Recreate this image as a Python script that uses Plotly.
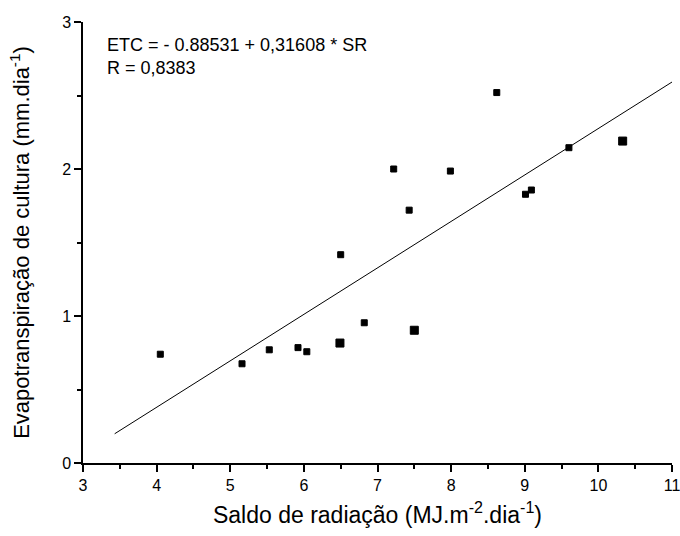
import plotly.graph_objects as go

# Net radiation (MJ m-2 day-1) and crop evapotranspiration (mm day-1)
saldo_radiacao = [4.05, 5.16, 5.53, 5.92, 6.04, 6.49, 6.50, 6.82, 7.22, 7.43,
                  7.50, 7.99, 8.62, 9.01, 9.09, 9.60, 10.33]
etc_cultura = [0.74, 0.675, 0.77, 0.785, 0.757, 0.816, 1.417, 0.954, 2.00, 1.72,
               0.903, 1.986, 2.52, 1.828, 1.857, 2.145, 2.19]

# Fitted linear regression
intercepto = -0.88531
inclinacao = 0.31608
r_coef = "0,8383"
sr_ajuste = [3.43, 11.0]
etc_ajuste = [intercepto + inclinacao * x for x in sr_ajuste]

x_ticks = [3, 4, 5, 6, 7, 8, 9, 10, 11]
y_ticks = [0, 1, 2, 3]

# a few markers drawn a little larger (overlapping observations)
tamanhos = [6 if v not in (6.49, 7.50, 10.33) else 8 for v in saldo_radiacao]

font_family = "Liberation Sans, Arial, sans-serif"

fig = go.Figure()
fig.add_trace(go.Scatter(
    x=sr_ajuste, y=etc_ajuste, mode="lines",
    line=dict(color="black", width=1), showlegend=False, hoverinfo="skip"))
fig.add_trace(go.Scatter(
    x=saldo_radiacao, y=etc_cultura, mode="markers",
    marker=dict(symbol="square", color="black", size=tamanhos, opacity=1,
                line=dict(width=1, color="black")),
    showlegend=False))

fig.add_annotation(
    x=0.038, y=0.975, xref="paper", yref="paper", xanchor="left", yanchor="top",
    align="left", showarrow=False,
    text=f"ETC = - {abs(intercepto):.5f} + {inclinacao:.5f} * SR".replace("+ 0.", "+ 0,")
         + f"<br>R = {r_coef}",
    font=dict(family=font_family, size=18, color="black"))

axis_common = dict(
    showline=True, linecolor="black", linewidth=1.5, mirror=False,
    showgrid=False, zeroline=False,
    ticks="outside", ticklen=7, tickwidth=1.5, tickcolor="black",
    tickfont=dict(family=font_family, size=16, color="black"),
    ticklabeloverflow="allow",
    minor=dict(ticks="outside", ticklen=4, tickwidth=1.5, tickcolor="black", showgrid=False),
)

fig.update_xaxes(
    range=[3, 11], tickvals=x_ticks, ticktext=[str(v) for v in x_ticks],
    minor_dtick=0.5, minor_tick0=3,
    title=dict(text="Saldo de radiação (MJ.m<sup>-2</sup>.dia<sup>-1</sup>)",
               font=dict(family=font_family, size=23, color="black"), standoff=14),
    **axis_common)
fig.update_yaxes(
    range=[0, 3], tickvals=y_ticks, ticktext=[str(v) for v in y_ticks],
    minor_dtick=0.5, minor_tick0=0,
    title=dict(text="Evapotranspiração de cultura (mm.dia<sup>-1</sup>)",
               font=dict(family=font_family, size=22, color="black"), standoff=26),
    **axis_common)

fig.update_layout(
    width=680, height=536,
    margin=dict(l=83, r=8, t=22, b=73, autoexpand=False),
    plot_bgcolor="white", paper_bgcolor="white",
    font=dict(family=font_family, color="black"),
)

fig.write_html("out.html")
